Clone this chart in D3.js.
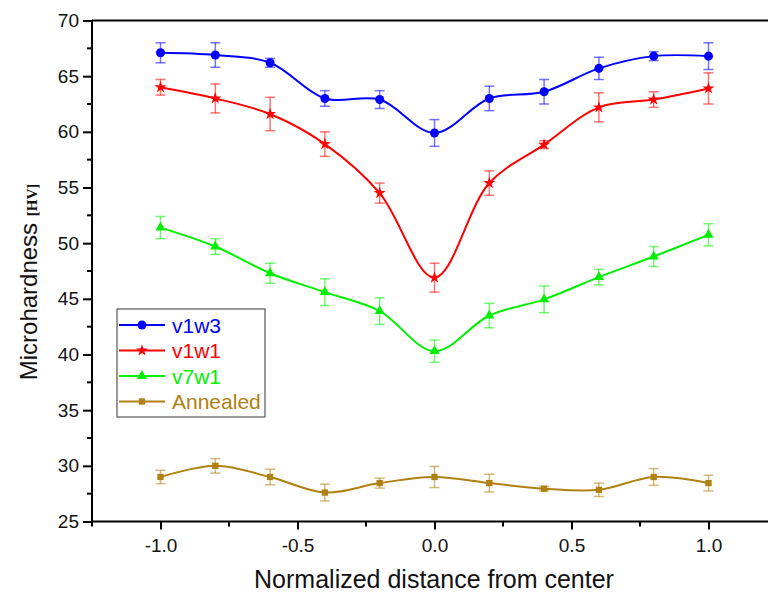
<!DOCTYPE html>
<html lang="en">

<head>
    <meta charset="utf-8" />
    <title>Microhardness profile</title>
    <script type="text/javascript" src="https://cdn.jsdelivr.net/npm/d3@7/dist/d3.min.js"></script>
    <style type="text/css">
        body {
            margin: 0;
            background: #fff;
        }
        text {
            font-family: "Liberation Sans", Arial, sans-serif;
        }
    </style>
</head>

<body>
    <script type="text/javascript">
        // data
        var positions = [-1.0, -0.8, -0.6, -0.4, -0.2, 0.0, 0.2, 0.4, 0.6, 0.8, 1.0];
        var seriesNames = ["v1w3", "v1w1", "v7w1", "Annealed"];
        var v1w3 = [67.1, 66.9, 66.2, 63.0, 62.9, 59.9, 63.0, 63.6, 65.7, 66.8, 66.8];
        var v1w3Err = [0.9, 1.1, 0.4, 0.7, 0.8, 1.2, 1.1, 1.1, 1.0, 0.4, 1.2];
        var v1w1 = [64.0, 63.0, 61.6, 58.9, 54.5, 46.9, 55.4, 58.85, 62.2, 62.9, 63.9];
        var v1w1Err = [0.7, 1.3, 1.5, 1.1, 0.9, 1.3, 1.1, 0.35, 1.3, 0.7, 1.4];
        var v7w1 = [51.4, 49.7, 47.3, 45.6, 43.9, 40.3, 43.5, 44.95, 46.95, 48.8, 50.75];
        var v7w1Err = [1.0, 0.7, 0.9, 1.2, 1.2, 1.0, 1.1, 1.2, 0.7, 0.9, 1.0];
        var annealed = [29.0, 30.0, 29.0, 27.6, 28.45, 29.0, 28.45, 27.95, 27.85, 29.0, 28.45];
        var annealedErr = [0.6, 0.65, 0.7, 0.75, 0.45, 0.95, 0.8, 0.2, 0.6, 0.75, 0.7];
        var xTicks = [-1.0, -0.5, 0.0, 0.5, 1.0];
        var yTicks = [25, 30, 35, 40, 45, 50, 55, 60, 65, 70];

        var colors = ["#0000ff", "#ff0000", "#00f000", "#b08010"];
        var shapes = [d3.symbolCircle, d3.symbolStar, d3.symbolTriangle, d3.symbolSquare];
        var sizes = [64, 45, 45, 40];

        var series = [
            { name: seriesNames[0], values: v1w3, errs: v1w3Err },
            { name: seriesNames[1], values: v1w1, errs: v1w1Err },
            { name: seriesNames[2], values: v7w1, errs: v7w1Err },
            { name: seriesNames[3], values: annealed, errs: annealedErr }
        ];

        var w = 768;
        var h = 597;
        var plotLeft = 92, plotTop = 20.5, plotBottom = 521.5;

        var xScale = d3.scaleLinear().domain([-1.25, 1.25]).range([plotLeft, plotLeft + 2.5 * 274]);
        var yScale = d3.scaleLinear().domain([25, 70]).range([plotBottom, plotTop]);

        var svg = d3.select("body")
            .append("svg")
            .attr("width", w)
            .attr("height", h);

        // x axis
        var xAxis = d3.axisBottom(xScale)
            .tickValues(xTicks)
            .tickSizeInner(8)
            .tickSizeOuter(0)
            .tickPadding(9);
        var gx = svg.append("g")
            .attr("transform", "translate(0," + plotBottom + ")")
            .call(xAxis);
        gx.select(".domain").remove();
        gx.selectAll(".tick line").attr("stroke-width", 2);
        gx.selectAll(".tick text").attr("font-size", "19px").attr("fill", "#111")
            .text(function(d) { return d3.format(".1f")(d).replace("\u2212", "-"); });
        gx.selectAll("line.minor")
            .data([-1.25, -0.75, -0.25, 0.25, 0.75])
            .enter()
            .append("line")
            .attr("class", "minor")
            .attr("x1", function(d) { return xScale(d); })
            .attr("x2", function(d) { return xScale(d); })
            .attr("y1", 0)
            .attr("y2", 5)
            .attr("stroke", "#000")
            .attr("stroke-width", 2);

        // y axis
        var yAxis = d3.axisLeft(yScale)
            .tickValues(yTicks)
            .tickSizeInner(9)
            .tickSizeOuter(0)
            .tickPadding(4);
        var gy = svg.append("g")
            .attr("transform", "translate(" + plotLeft + ",0)")
            .call(yAxis);
        gy.select(".domain").remove();
        gy.selectAll(".tick line").attr("stroke-width", 2);
        gy.selectAll(".tick text").attr("font-size", "19px").attr("fill", "#111");
        gy.selectAll("line.minor")
            .data(d3.range(27.5, 70, 5))
            .enter()
            .append("line")
            .attr("class", "minor")
            .attr("x1", 0)
            .attr("x2", -5)
            .attr("y1", function(d) { return yScale(d); })
            .attr("y2", function(d) { return yScale(d); })
            .attr("stroke", "#000")
            .attr("stroke-width", 2);

        // frame lines
        svg.append("line")
            .attr("x1", plotLeft).attr("x2", w)
            .attr("y1", plotBottom).attr("y2", plotBottom)
            .attr("stroke", "#000").attr("stroke-width", 2);
        svg.append("line")
            .attr("x1", plotLeft).attr("x2", w)
            .attr("y1", plotTop).attr("y2", plotTop)
            .attr("stroke", "#000").attr("stroke-width", 2);
        svg.append("line")
            .attr("x1", plotLeft).attr("x2", plotLeft)
            .attr("y1", plotTop).attr("y2", plotBottom)
            .attr("stroke", "#000").attr("stroke-width", 2);

        // series
        var line = d3.line()
            .x(function(d, i) { return xScale(positions[i]); })
            .y(function(d) { return yScale(d); })
            .curve(d3.curveCatmullRom.alpha(0.5));

        series.forEach(function(s, k) {
            var g = svg.append("g");
            // error bars
            var eb = g.selectAll("g.err")
                .data(s.values)
                .enter()
                .append("g")
                .attr("stroke", colors[k])
                .attr("stroke-opacity", 0.55)
                .attr("stroke-width", 1.5);
            eb.append("line")
                .attr("x1", function(d, i) { return xScale(positions[i]); })
                .attr("x2", function(d, i) { return xScale(positions[i]); })
                .attr("y1", function(d, i) { return yScale(d + s.errs[i]); })
                .attr("y2", function(d, i) { return yScale(d - s.errs[i]); });
            [1, -1].forEach(function(sign) {
                eb.append("line")
                    .attr("x1", function(d, i) { return xScale(positions[i]) - 5; })
                    .attr("x2", function(d, i) { return xScale(positions[i]) + 5; })
                    .attr("y1", function(d, i) { return yScale(d + sign * s.errs[i]); })
                    .attr("y2", function(d, i) { return yScale(d + sign * s.errs[i]); });
            });
            g.append("path")
                .datum(s.values)
                .attr("d", line)
                .attr("fill", "none")
                .attr("stroke", colors[k])
                .attr("stroke-width", 2);
            g.selectAll("path.pt")
                .data(s.values)
                .enter()
                .append("path")
                .attr("class", "pt")
                .attr("d", d3.symbol().type(shapes[k]).size(sizes[k]))
                .attr("transform", function(d, i) {
                    return "translate(" + xScale(positions[i]) + "," + yScale(d) + ")";
                })
                .attr("fill", colors[k]);
        });

        // legend
        var legend = svg.append("g").attr("transform", "translate(117,309)");
        legend.append("rect")
            .attr("x", 0).attr("y", 0)
            .attr("width", 148).attr("height", 108)
            .attr("fill", "#fff")
            .attr("stroke", "#555")
            .attr("stroke-width", 1.2);
        var items = legend.selectAll("g.item")
            .data(series)
            .enter()
            .append("g")
            .attr("transform", function(d, i) { return "translate(0," + (16 + i * 25.5) + ")"; });
        items.append("line")
            .attr("x1", 2).attr("x2", 48)
            .attr("y1", 0).attr("y2", 0)
            .attr("stroke", function(d, i) { return colors[i]; })
            .attr("stroke-width", 2);
        items.append("path")
            .attr("d", function(d, i) { return d3.symbol().type(shapes[i]).size(sizes[i])(); })
            .attr("transform", "translate(25,0)")
            .attr("fill", function(d, i) { return colors[i]; });
        items.append("text")
            .attr("x", 55)
            .attr("y", 7.5)
            .attr("font-size", "21px")
            .attr("fill", function(d, i) { return colors[i]; })
            .text(function(d) { return d.name; });

        // axis titles
        var yt = svg.append("text")
            .attr("transform", "translate(37,282) rotate(-90)")
            .attr("text-anchor", "middle")
            .attr("font-size", "24px")
            .attr("fill", "#111");
        yt.append("tspan").text("Microhardness ");
        yt.append("tspan")
            .attr("font-family", "'Liberation Serif', serif")
            .attr("font-weight", "bold")
            .attr("font-size", "15px")
            .text("[HV]");

        svg.append("text")
            .attr("x", 434)
            .attr("y", 588)
            .attr("text-anchor", "middle")
            .attr("font-size", "25px")
            .attr("fill", "#111")
            .text("Normalized distance from center");
    </script>
</body>

</html>
